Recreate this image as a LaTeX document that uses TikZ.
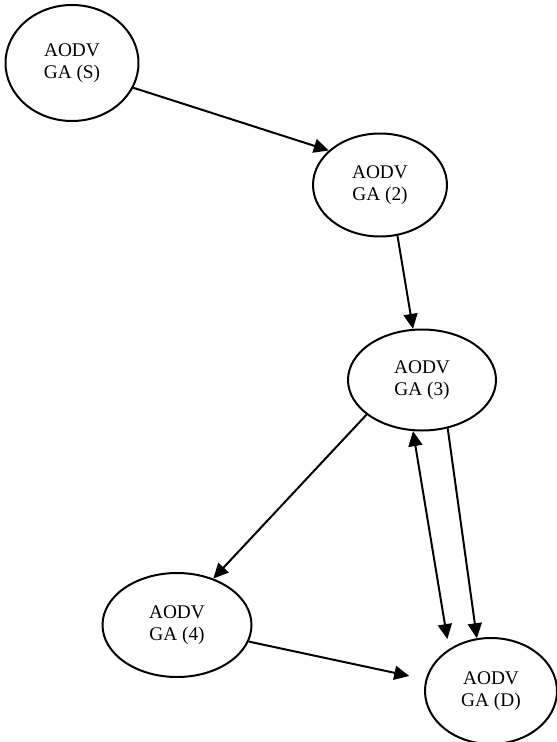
\documentclass[tikz,border=0pt]{standalone}
\usepackage{fontspec}
\setmainfont{Liberation Serif}
\usetikzlibrary{shapes.geometric, positioning, arrows.meta}

\begin{document}
\begin{tikzpicture}[auto]
% Define styles
\tikzstyle{station} = [ellipse, draw=black, line width=1.7pt, inner sep=0pt, align=center, font=\fontsize{16.5}{19}\selectfont]
\tikzstyle{arrow} = [line width=1.7pt, -{Triangle[length=0.45cm, width=0.42cm]}]
\tikzstyle{bidirectional} = [line width=1.7pt, {Triangle[length=0.45cm, width=0.42cm]}-{Triangle[length=0.45cm, width=0.42cm]}]

\useasboundingbox (0,0) rectangle (16.68,-22.26);

% AODV GA nodes
\node (gas) [station, minimum width=3.99cm, minimum height=3.48cm] at (2.16,-1.89) {AODV\\GA (S)};
\node (ga2) [station, minimum width=4.02cm, minimum height=3.09cm] at (11.40,-5.55) {AODV\\GA (2)};
\node (ga3) [station, minimum width=4.44cm, minimum height=3.03cm] at (12.66,-11.40) {AODV\\GA (3)};
\node (ga4) [station, minimum width=4.47cm, minimum height=3.12cm] at (5.31,-18.75) {AODV\\GA (4)};
\node (gad) [station, minimum width=3.96cm, minimum height=3.18cm] at (14.73,-20.73) {AODV\\GA (D)};

% Route arrows
\draw [arrow] (gas.-22) -- (ga2.146);
\draw [arrow] (ga2.-71) -- (ga3.100);
\draw [arrow] (ga3.212) -- (ga4.52);
\draw [arrow, shorten >=0.5cm] (ga4.-13) -- (gad.170);
\draw [arrow] (ga3.-62) -- (gad.105);

% Two-way link between 3 and D
\draw [bidirectional, shorten >=0.3cm] (ga3.260) -- (gad.135);

\end{tikzpicture}
\end{document}
